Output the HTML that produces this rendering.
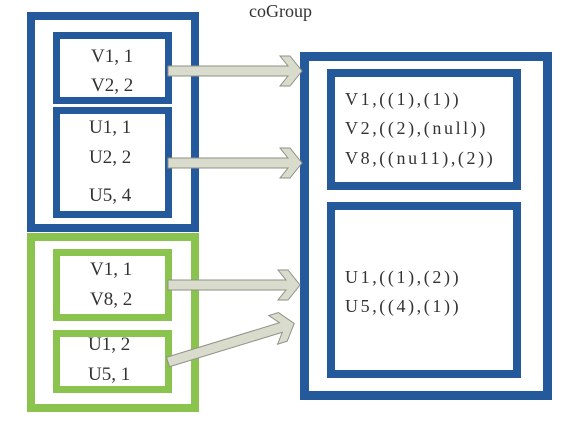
<!DOCTYPE html>
<html><head><meta charset="utf-8"><style>
html,body{margin:0;padding:0;background:#fff;}
body{width:565px;height:421px;position:relative;overflow:hidden;font-family:"Liberation Serif",serif;color:#333;}
.b{position:absolute;box-sizing:border-box;}
.t{position:absolute;font-size:19px;line-height:20px;white-space:nowrap;}
.r{position:absolute;font-size:18px;line-height:20px;letter-spacing:2.6px;white-space:nowrap;}
</style></head><body>
<div class="t" style="left:249px;top:1px;font-size:18px;">coGroup</div>

<div class="b" style="left:27px;top:12px;width:172px;height:220px;border:8px solid #245a9c;"></div>
<div class="b" style="left:53px;top:32px;width:119px;height:72px;border:7px solid #245a9c;"></div>
<div class="b" style="left:53px;top:107px;width:119px;height:111px;border:7px solid #245a9c;"></div>
<div class="b" style="left:27px;top:233px;width:172px;height:179px;border:8px solid #8bc34f;"></div>
<div class="b" style="left:53px;top:249px;width:119px;height:72px;border:7px solid #8bc34f;"></div>
<div class="b" style="left:53px;top:330px;width:119px;height:63px;border:7px solid #8bc34f;"></div>

<div class="b" style="left:300px;top:52px;width:252px;height:348px;border:9px solid #245a9c;"></div>
<div class="b" style="left:327px;top:69px;width:194px;height:121px;border:8px solid #245a9c;"></div>
<div class="b" style="left:327px;top:202px;width:194px;height:176px;border:8px solid #245a9c;"></div>

<div class="t" style="left:91px;top:47px;">V1, 1</div>
<div class="t" style="left:91px;top:76px;">V2, 2</div>
<div class="t" style="left:89px;top:118px;">U1, 1</div>
<div class="t" style="left:89px;top:148px;">U2, 2</div>
<div class="t" style="left:89px;top:186px;">U5, 4</div>
<div class="t" style="left:90px;top:260px;">V1, 1</div>
<div class="t" style="left:90px;top:290px;">V8, 2</div>
<div class="t" style="left:88px;top:335px;">U1, 2</div>
<div class="t" style="left:88px;top:365px;">U5, 1</div>

<div class="r" style="left:345px;top:89px;">V1,((1),(1))</div>
<div class="r" style="left:345px;top:118px;">V2,((2),(null))</div>
<div class="r" style="left:345px;top:148px;">V8,((nu11),(2))</div>
<div class="r" style="left:345px;top:267px;">U1,((1),(2))</div>
<div class="r" style="left:345px;top:296px;">U5,((4),(1))</div>

<svg width="565" height="421" style="position:absolute;left:0;top:0;">
<g fill="#d9dccc" stroke="#8f9185" stroke-width="1">
<polygon points="168,66 288,66 280,56 290,56 302,71 290,86 280,86 288,76 168,76"/>
<polygon points="168,158 288,158 280,148 290,148 302,163 290,178 280,178 288,168 168,168"/>
<polygon points="168,280 286,280 278,270 288,270 300,285 288,300 278,300 286,290 168,290"/>
<polygon points="168,357 286,357 278,347 288,347 300,362 288,377 278,377 286,367 168,367" transform="rotate(-17,168,362)"/>
</g>
</svg>
</body></html>
